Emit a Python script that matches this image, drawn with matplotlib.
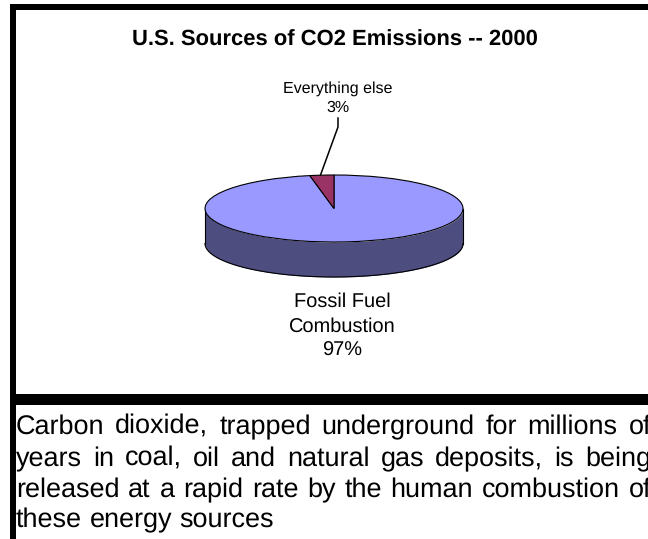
import matplotlib
matplotlib.use("Agg")
import matplotlib.pyplot as plt
import numpy as np
from matplotlib.patches import Rectangle

plt.rcParams["font.family"] = ["Liberation Sans", "DejaVu Sans"]
plt.rcParams["text.hinting"] = "no_hinting"
plt.rcParams["text.hinting_factor"] = 1

# donnees
categories = ["Fossil Fuel\nCombustion", "Everything else"]
values = [97, 3]
colors = ["#9999FF", "#993366"]
side_color = "#4D4D80"
title = "U.S. Sources of CO2 Emissions -- 2000"
body_lines = [
    "Carbon dioxide, trapped underground for millions of",
    "years in coal, oil and natural gas deposits, is being",
    "released at a rapid rate by the human combustion of",
    "these energy sources",
]

W, H = 648, 539
fig = plt.figure(figsize=(W / 100, H / 100), dpi=100, facecolor="white")

# axe en pixels pour le cadre et les textes
bg = fig.add_axes([0, 0, 1, 1])
bg.set_xlim(0, W)
bg.set_ylim(H, 0)
bg.axis("off")
for x, y, w, h in [(10, 4, 638, 6), (10, 4, 6, 535), (10, 394, 638, 11)]:
    bg.add_patch(Rectangle((x, y), w, h, color="black", lw=0))

# camembert ecrase : centre (334, 208.5), a=129, b=33.5, epaisseur 35
cx, cy, a, b, depth = 334, 208.5, 129, 33.5, 35
top_px, bottom_px = cy - b, cy + b + depth
ax = fig.add_axes([(cx - a) / W, 1 - bottom_px / H, 2 * a / W, (bottom_px - top_px) / H])
ax.pie(values, colors=colors, startangle=90 - values[0] * 3.6,
       radius=1, counterclock=True, wedgeprops={"edgecolor": "black", "linewidth": 0.8})
ax.set_aspect("auto")
ax.set_xlim(-1, 1)
ax.set_ylim(1 - (bottom_px - top_px) / b, 1)
ax.axis("off")
for p in ax.patches:
    p.set_clip_on(False)
    p.set_zorder(3)

# cote du cylindre
d = depth / b
t = np.linspace(np.pi, 2 * np.pi, 200)
xs = np.cos(t)
ax.fill_between(xs, np.sin(t), np.sin(t) - d, color=side_color, lw=0, zorder=1, clip_on=False)
ax.plot(xs, np.sin(t) - d, color="black", lw=0.8, zorder=2, clip_on=False)
ax.plot([-1, -1], [0, -d], color="black", lw=0.8, zorder=2, clip_on=False)
ax.plot([1, 1], [0, -d], color="black", lw=0.8, zorder=2, clip_on=False)

# titre et etiquettes
bg.set_zorder(ax.get_zorder() + 1)
bg.patch.set_alpha(0)
bg.text(334.5, 46, title, fontsize=15.8, fontweight="bold", ha="center", va="baseline")
bg.text(338, 92.7, categories[1], fontsize=11.7, ha="center", va="baseline")
bg.text(338, 112, "%d%%" % values[1], fontsize=11.7, ha="center", va="baseline")
bg.plot([338, 338, 320.5], [118, 127, 175], color="black", lw=1.1)
name1, name2 = categories[0].split("\n")
bg.text(342, 306.7, name1, fontsize=14.1, ha="center", va="baseline")
bg.text(342, 331.5, name2, fontsize=14.1, ha="center", va="baseline")
bg.text(342, 356, "%d%%" % values[0], fontsize=14.1, ha="center", va="baseline")

# paragraphe justifie, mot par mot
renderer = fig.canvas.get_renderer()
left, right = 16, 651
baselines = [434, 466, 497, 527]
for i, (line, yb) in enumerate(zip(body_lines, baselines)):
    words = line.split()
    items = [bg.text(0, yb, m, fontsize=19.3, ha="left", va="baseline", clip_on=True) for m in words]
    widths = [it.get_window_extent(renderer).width for it in items]
    if i < len(body_lines) - 1:
        gap = (right - left - sum(widths)) / (len(words) - 1)
    else:
        gap = 7.4
    x = left
    for it, w in zip(items, widths):
        it.set_x(x)
        x += w + gap

fig.savefig("out.png", dpi=100)
